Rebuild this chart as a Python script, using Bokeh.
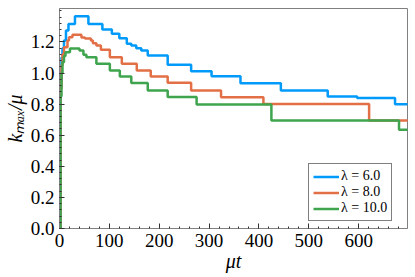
from bokeh.plotting import figure
from bokeh.models import Range1d, FixedTicker, Legend, LegendItem, CustomJSTickFormatter
from bokeh.embed import file_html
from bokeh.resources import INLINE

# ---- data ----
t_l6 = [0, 2, 4, 6, 9, 13, 18, 31, 58, 86, 105, 120, 135, 144, 154, 164, 177, 217, 264, 305, 363, 444, 538, 597, 673, 700]
k_l6 = [0.0, 0.95, 1.10, 1.16, 1.209, 1.273, 1.316, 1.365, 1.316, 1.280, 1.252, 1.224, 1.188, 1.177, 1.159, 1.145, 1.113, 1.053, 1.012, 0.979, 0.934, 0.887, 0.849, 0.839, 0.799, 0.799]

t_l8 = [0, 2, 4, 6, 9, 16, 19, 26, 44, 51, 63, 67, 74, 83, 101, 125, 155, 183, 217, 264, 324, 409, 621, 700]
k_l8 = [0.0, 0.90, 1.05, 1.12, 1.166, 1.209, 1.230, 1.246, 1.228, 1.222, 1.209, 1.191, 1.177, 1.149, 1.102, 1.060, 1.017, 0.977, 0.937, 0.887, 0.844, 0.801, 0.695, 0.695]

t_l10 = [0, 2, 4, 6, 9, 12, 21, 40, 48, 54, 74, 101, 121, 144, 177, 217, 275, 425, 681, 700]
k_l10 = [0.0, 0.85, 1.00, 1.07, 1.11, 1.134, 1.157, 1.145, 1.117, 1.102, 1.059, 1.016, 0.977, 0.936, 0.887, 0.846, 0.797, 0.695, 0.635, 0.635]

series_labels = ["λ = 6.0", "λ = 8.0", "λ = 10.0"]
series_colors = ["#009AFA", "#E36F47", "#3EA44E"]

x_major = [0, 100, 200, 300, 400, 500, 600]
x_minor = list(range(0, 700, 20))
y_major = [0.0, 0.2, 0.4, 0.6, 0.8, 1.0, 1.2]
y_minor = [round(i * 0.04, 2) for i in range(0, 36)]

x_title = "μt"
y_title = "kₘₐₓ/μ"

FONT = "Liberation Serif"

p = figure(width=415, height=277, x_range=Range1d(0, 698), y_range=Range1d(0, 1.415),
           output_backend="svg", toolbar_location=None,
           min_border_left=58, min_border_right=8, min_border_top=8, min_border_bottom=49)

p.xgrid.visible = False
p.ygrid.visible = False
p.outline_line_color = "#808080"
p.outline_line_width = 1
p.background_fill_color = "white"
p.border_fill_color = "white"

p.xaxis.ticker = FixedTicker(ticks=x_major, minor_ticks=x_minor)
p.yaxis.ticker = FixedTicker(ticks=y_major, minor_ticks=y_minor)
p.yaxis.formatter = CustomJSTickFormatter(code="return tick.toFixed(1);")

p.xaxis.axis_label = x_title
p.yaxis.axis_label = y_title

for ax in (p.xaxis[0], p.yaxis[0]):
    ax.axis_line_color = "#808080"
    ax.major_tick_in = 5
    ax.major_tick_out = 0
    ax.minor_tick_in = 2
    ax.minor_tick_out = 0
    ax.major_tick_line_color = "#333333"
    ax.minor_tick_line_color = "#333333"
    ax.major_label_text_font = FONT
    ax.major_label_text_font_size = "19px"
    ax.major_label_text_color = "black"
    ax.major_label_standoff = 5
    ax.axis_label_text_font = FONT
    ax.axis_label_text_font_style = "italic"
    ax.axis_label_text_font_size = "20px"
    ax.axis_label_text_color = "black"

p.xaxis.axis_label_standoff = 0
p.yaxis.axis_label_standoff = 2

renderers = []
for tt, kk, c in [(t_l6, k_l6, series_colors[0]), (t_l8, k_l8, series_colors[1]), (t_l10, k_l10, series_colors[2])]:
    r = p.step(tt, kk, mode="after", line_width=2.5, line_color=c)
    renderers.append(r)

legend = Legend(items=[LegendItem(label=lab, renderers=[r]) for lab, r in zip(series_labels, renderers)],
                location=(249, 7))
legend.border_line_color = "black"
legend.border_line_width = 1
legend.background_fill_color = "white"
legend.background_fill_alpha = 1
legend.label_text_font = FONT
legend.label_text_font_size = "14px"
legend.label_text_color = "black"
legend.glyph_width = 26
legend.glyph_height = 15
legend.label_height = 15
legend.spacing = 0
legend.padding = 4
legend.margin = 0
legend.label_standoff = 2
p.add_layout(legend)

open("out.html", "w").write(file_html(p, INLINE))
